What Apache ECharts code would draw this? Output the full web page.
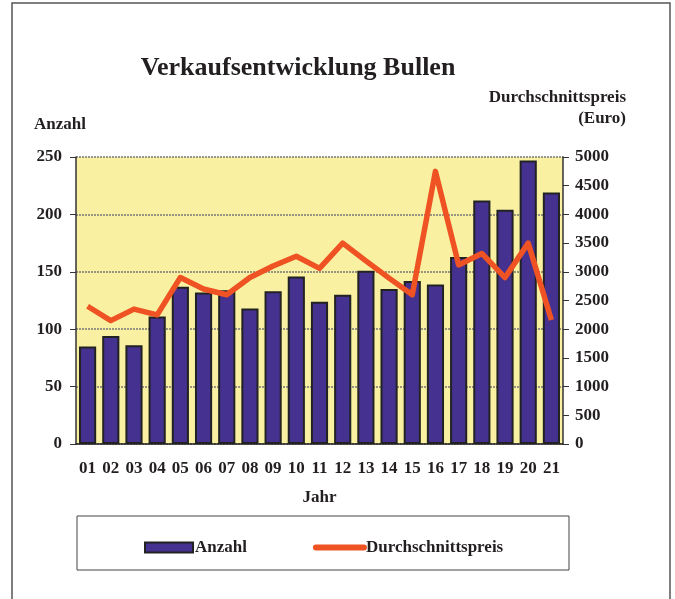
<!DOCTYPE html>
<html>
<head>
<meta charset="utf-8">
<script src="https://cdn.jsdelivr.net/npm/echarts@6/dist/echarts.min.js"></script>
<style>
  html, body { margin: 0; padding: 0; background: #fff; }
  #chart { width: 675px; height: 599px; }
</style>
</head>
<body>
<div id="chart"></div>
<script>
var jahre = ["01", "02", "03", "04", "05", "06", "07", "08", "09", "10", "11",
  "12", "13", "14", "15", "16", "17", "18", "19", "20", "21"];
var anzahl = [85, 94, 86, 111, 137, 132, 134, 118, 133, 146, 124,
  130, 151, 135, 142, 139, 163, 212, 204, 247, 219];
var preis = [2400, 2150, 2350, 2250, 2900, 2700, 2600, 2900, 3100, 3270, 3060,
  3500, 3190, 2890, 2600, 4750, 3120, 3320, 2900, 3500, 2160];
var anzahlTicks = [0, 250, 50];
var preisTicks = [0, 5000, 500];

var font = "Liberation Serif";
var txt = "#231f20";
var lbl = { fontFamily: font, fontSize: 17, fontWeight: "bold", color: txt };

var chart = echarts.init(document.getElementById("chart"));
chart.setOption({
  animation: false,
  textStyle: { fontFamily: font },
  title: {
    text: "Verkaufsentwicklung Bullen",
    left: 293,
    textAlign: "center",
    top: 50,
    textStyle: { fontFamily: font, fontSize: 26, fontWeight: "bold", color: txt }
  },
  graphic: [
    {
      type: "rect",
      shape: { x: 12, y: 3, width: 658, height: 620 },
      style: { fill: null, stroke: "#555", lineWidth: 1.5 }
    },
    {
      type: "text",
      x: 34, y: 116,
      style: { text: "Anzahl", font: "bold 17px '" + font + "'", fill: txt }
    },
    {
      type: "text",
      x: 626, y: 87,
      style: { text: "Durchschnittspreis\n(Euro)", font: "bold 17px '" + font + "'",
        fill: txt, align: "right", lineHeight: 21 }
    },
    {
      type: "rect",
      shape: { x: 77, y: 516, width: 492, height: 54 },
      style: { fill: "#fff", stroke: "#444", lineWidth: 1 },
      z: -1
    }
  ],
  legend: {
    left: 139,
    top: 534,
    itemGap: 66,
    itemWidth: 48,
    itemHeight: 10,
    textStyle: { fontFamily: font, fontSize: 17, fontWeight: "bold", color: txt, padding: [0, 0, 0, -3] },
    data: [
      { name: "Anzahl", icon: "rect" },
      { name: "Durchschnittspreis", itemStyle: { opacity: 0 },
        lineStyle: { width: 6, cap: "round", color: "#f05323" } }
    ]
  },
  grid: {
    left: 76, right: 112, top: 157, bottom: 155,
    show: true,
    backgroundColor: "#f9f1a1",
    borderWidth: 0
  },
  xAxis: {
    type: "category",
    data: jahre,
    name: "Jahr",
    nameLocation: "middle",
    nameGap: 45,
    nameTextStyle: lbl,
    axisLine: { lineStyle: { color: "#222", width: 1.5 } },
    axisTick: { show: false },
    axisLabel: Object.assign({ margin: 16 }, lbl)
  },
  yAxis: [
    {
      type: "value",
      min: anzahlTicks[0], max: anzahlTicks[1], interval: anzahlTicks[2],
      axisLine: { show: true, lineStyle: { color: "#333", width: 1.5 } },
      axisTick: { show: true, length: 6, lineStyle: { color: "#333" } },
      axisLabel: Object.assign({ margin: 14 }, lbl),
      splitLine: { show: true, lineStyle: { color: "#777", type: [2, 1], width: 1.5 } }
    },
    {
      type: "value",
      min: preisTicks[0], max: preisTicks[1], interval: preisTicks[2],
      axisLine: { show: true, lineStyle: { color: "#333", width: 1.5 } },
      axisTick: { show: true, length: 6, lineStyle: { color: "#333" } },
      axisLabel: Object.assign({ margin: 12, formatter: function (v) { return String(v); } }, lbl),
      splitLine: { show: false }
    }
  ],
  series: [
    {
      name: "Anzahl",
      type: "bar",
      data: anzahl,
      barWidth: "74%",
      itemStyle: { color: "#45318f", borderColor: "#222", borderWidth: 2 }
    },
    {
      name: "Durchschnittspreis",
      type: "line",
      yAxisIndex: 1,
      data: preis,
      symbol: "none",
      lineStyle: { color: "#f05323", width: 5.5, join: "round" },
      itemStyle: { color: "#f05323" }
    }
  ]
});
</script>
</body>
</html>
